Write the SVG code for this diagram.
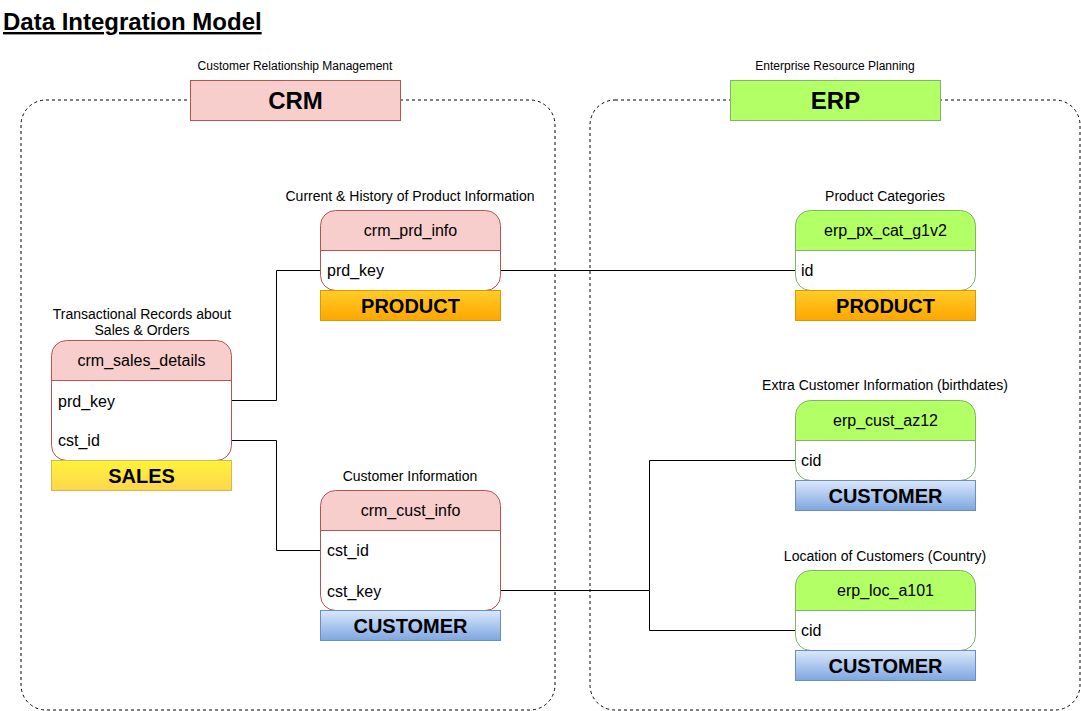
<svg xmlns="http://www.w3.org/2000/svg" width="1081" height="711" viewBox="0 0 1081 711">
<defs>
<linearGradient id="gOrange" x1="0" y1="0" x2="0" y2="1"><stop offset="0" stop-color="#ffcd28"/><stop offset="1" stop-color="#ffa500"/></linearGradient>
<linearGradient id="gYellow" x1="0" y1="0" x2="0" y2="1"><stop offset="0" stop-color="#fff33b"/><stop offset="1" stop-color="#fdd64d"/></linearGradient>
<linearGradient id="gBlue" x1="0" y1="0" x2="0" y2="1"><stop offset="0" stop-color="#dae8fc"/><stop offset="1" stop-color="#7ea6e0"/></linearGradient>
<style>
text{font-family:"Liberation Sans",Arial,sans-serif;fill:#000}
.cap{font-size:12px;text-anchor:middle}
.tcap{font-size:14px;text-anchor:middle}
.hdr{font-size:16px;text-anchor:middle}
.row{font-size:16px}
.lbl{font-size:20px;font-weight:bold;text-anchor:middle}
.big{font-size:24px;font-weight:bold;text-anchor:middle}
.cont{fill:none;stroke:#000;stroke-dasharray:3 3}
.tbl{fill:#fff}
.crmh{fill:#f8cecc}
.crms{fill:none;stroke:#b85450}
.erph{fill:#b3ff66}
.erps{fill:none;stroke:#82b366}
.con{fill:none;stroke:#000;stroke-width:1}
.or{fill:url(#gOrange);stroke:#d79b00}
.ye{fill:url(#gYellow);stroke:#d6b656}
.bl{fill:url(#gBlue);stroke:#6c8ebf}
</style>
</defs>
<rect width="1081" height="711" fill="#fff"/>
<text x="3" y="30" style="font-size:24px;font-weight:bold;text-decoration:underline">Data Integration Model</text>

<g id="crm-container">
<rect class="cont" x="21" y="100" width="534" height="610" rx="25"/>
<text class="cap" x="295" y="70">Customer Relationship Management</text>
<rect x="190.5" y="80.5" width="210" height="40" fill="#f8cecc" stroke="#b85450"/>
<text class="big" x="295.5" y="109">CRM</text>
</g>
<g id="erp-container">
<rect class="cont" x="590" y="100" width="490" height="610" rx="25"/>
<text class="cap" x="835" y="70">Enterprise Resource Planning</text>
<rect x="730.5" y="80.5" width="210" height="40" fill="#b3ff66" stroke="#82b366"/>
<text class="big" x="835.5" y="109">ERP</text>
</g>

<g id="connectors">
<polyline class="con" points="231,400.5 276.5,400.5 276.5,270.5 320,270.5"/>
<polyline class="con" points="231,440.5 276.5,440.5 276.5,550.5 320,550.5"/>
<polyline class="con" points="500,270.5 795,270.5"/>
<polyline class="con" points="500,590.5 649.5,590.5 649.5,460.5 795,460.5"/>
<polyline class="con" points="649.5,590.5 649.5,630.5 795,630.5"/>
</g>

<g id="crm_prd_info">
<text class="tcap" x="410" y="201">Current &amp; History of Product Information</text>
<rect class="tbl" x="320.5" y="210.5" width="180" height="80" rx="15"/>
<path class="crmh" d="M320.5,250.5 V225.5 a15,15 0 0 1 15,-15 H485.5 a15,15 0 0 1 15,15 V250.5 Z"/>
<line x1="320.5" y1="250.5" x2="500.5" y2="250.5" stroke="#b85450"/>
<rect class="crms" x="320.5" y="210.5" width="180" height="80" rx="15"/>
<text class="hdr" x="410.5" y="236">crm_prd_info</text>
<text class="row" x="327" y="276">prd_key</text>
<rect class="or" x="320.5" y="290.5" width="180" height="30"/>
<text class="lbl" x="410.5" y="313">PRODUCT</text>
</g>

<g id="crm_sales_details">
<text class="tcap" x="142" y="319">Transactional Records about</text>
<text class="tcap" x="142" y="335">Sales &amp; Orders</text>
<rect class="tbl" x="51.5" y="340.5" width="180" height="120" rx="15"/>
<path class="crmh" d="M51.5,380.5 V355.5 a15,15 0 0 1 15,-15 H216.5 a15,15 0 0 1 15,15 V380.5 Z"/>
<line x1="51.5" y1="380.5" x2="231.5" y2="380.5" stroke="#b85450"/>
<rect class="crms" x="51.5" y="340.5" width="180" height="120" rx="15"/>
<text class="hdr" x="141.5" y="366">crm_sales_details</text>
<text class="row" x="58" y="407">prd_key</text>
<text class="row" x="58" y="446">cst_id</text>
<rect class="ye" x="51.5" y="460.5" width="180" height="30"/>
<text class="lbl" x="141.5" y="483">SALES</text>
</g>

<g id="crm_cust_info">
<text class="tcap" x="410" y="481">Customer Information</text>
<rect class="tbl" x="320.5" y="490.5" width="180" height="120" rx="15"/>
<path class="crmh" d="M320.5,530.5 V505.5 a15,15 0 0 1 15,-15 H485.5 a15,15 0 0 1 15,15 V530.5 Z"/>
<line x1="320.5" y1="530.5" x2="500.5" y2="530.5" stroke="#b85450"/>
<rect class="crms" x="320.5" y="490.5" width="180" height="120" rx="15"/>
<text class="hdr" x="410.5" y="516">crm_cust_info</text>
<text class="row" x="327" y="556">cst_id</text>
<text class="row" x="327" y="597">cst_key</text>
<rect class="bl" x="320.5" y="610.5" width="180" height="30"/>
<text class="lbl" x="410.5" y="633">CUSTOMER</text>
</g>

<g id="erp_px_cat_g1v2">
<text class="tcap" x="885" y="201">Product Categories</text>
<rect class="tbl" x="795.5" y="210.5" width="180" height="80" rx="15"/>
<path class="erph" d="M795.5,250.5 V225.5 a15,15 0 0 1 15,-15 H960.5 a15,15 0 0 1 15,15 V250.5 Z"/>
<line x1="795.5" y1="250.5" x2="975.5" y2="250.5" stroke="#82b366"/>
<rect class="erps" x="795.5" y="210.5" width="180" height="80" rx="15"/>
<text class="hdr" x="885.5" y="236">erp_px_cat_g1v2</text>
<text class="row" x="801" y="276">id</text>
<rect class="or" x="795.5" y="290.5" width="180" height="30"/>
<text class="lbl" x="885.5" y="313">PRODUCT</text>
</g>

<g id="erp_cust_az12">
<text class="tcap" x="885" y="390">Extra Customer Information (birthdates)</text>
<rect class="tbl" x="795.5" y="400.5" width="180" height="80" rx="15"/>
<path class="erph" d="M795.5,440.5 V415.5 a15,15 0 0 1 15,-15 H960.5 a15,15 0 0 1 15,15 V440.5 Z"/>
<line x1="795.5" y1="440.5" x2="975.5" y2="440.5" stroke="#82b366"/>
<rect class="erps" x="795.5" y="400.5" width="180" height="80" rx="15"/>
<text class="hdr" x="885.5" y="426">erp_cust_az12</text>
<text class="row" x="801" y="466">cid</text>
<rect class="bl" x="795.5" y="480.5" width="180" height="30"/>
<text class="lbl" x="885.5" y="503">CUSTOMER</text>
</g>

<g id="erp_loc_a101">
<text class="tcap" x="885" y="561">Location of Customers (Country)</text>
<rect class="tbl" x="795.5" y="570.5" width="180" height="80" rx="15"/>
<path class="erph" d="M795.5,610.5 V585.5 a15,15 0 0 1 15,-15 H960.5 a15,15 0 0 1 15,15 V610.5 Z"/>
<line x1="795.5" y1="610.5" x2="975.5" y2="610.5" stroke="#82b366"/>
<rect class="erps" x="795.5" y="570.5" width="180" height="80" rx="15"/>
<text class="hdr" x="885.5" y="596">erp_loc_a101</text>
<text class="row" x="801" y="636">cid</text>
<rect class="bl" x="795.5" y="650.5" width="180" height="30"/>
<text class="lbl" x="885.5" y="673">CUSTOMER</text>
</g>
</svg>
